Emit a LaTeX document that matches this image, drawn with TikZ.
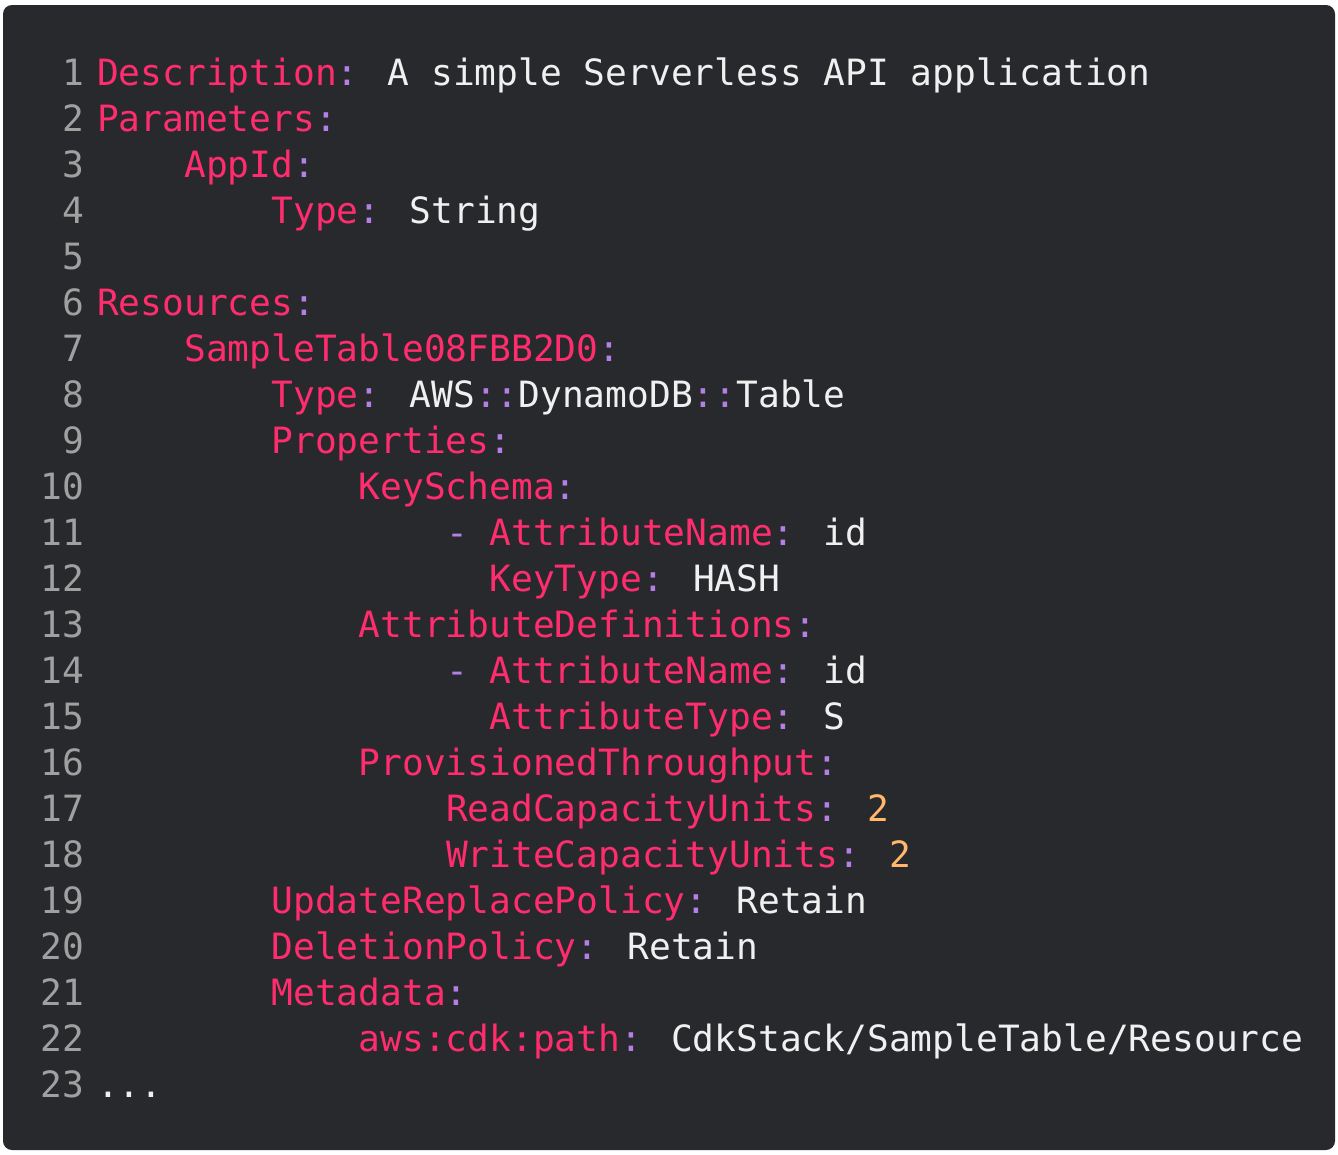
\documentclass[tikz,border=0pt]{standalone}
\usepackage{fontspec}
\newfontfamily\codefont{DejaVu Sans Mono}
\definecolor{bgc}{HTML}{28292C}
\definecolor{keyc}{HTML}{FF2D6E}
\definecolor{punc}{HTML}{B47FE6}
\definecolor{numc}{HTML}{FFB86C}
\definecolor{txtc}{HTML}{F0F0F0}
\definecolor{lnc}{HTML}{A0A0A0}
\newcommand{\Kk}[1]{\textcolor{keyc}{#1}}
\newcommand{\Pp}[1]{\textcolor{punc}{#1}}
\newcommand{\Nn}[1]{\textcolor{numc}{#1}}
\tikzset{ln/.style={anchor=base east,inner sep=0,text=lnc,font=\codefont\fontsize{36.2}{46}\selectfont},
 code/.style={anchor=base west,inner sep=0,text=txtc,font=\codefont\fontsize{36.2}{46}\selectfont}}
\newcommand{\cl}[3]{\node[ln] (n#1) at (84pt,{-(85+46*(#1-1))*1pt}) {#1};
 \node[code] (c#1) at ({(97+21.8*#2)*1pt},{-(85+46*(#1-1))*1pt}) {#3};}
\begin{document}
\begin{tikzpicture}[x=1pt,y=1pt]
\useasboundingbox (0,0) rectangle (1338,-1154);
\fill[white] (0,0) rectangle (1338,-1154);
\fill[bgc,rounded corners=9pt] (3,-5) rectangle (1335,-1150);
\cl{1}{0}{\Kk{Description}\Pp{:} A simple Serverless API application}
\cl{2}{0}{\Kk{Parameters}\Pp{:}}
\cl{3}{4}{\Kk{AppId}\Pp{:}}
\cl{4}{8}{\Kk{Type}\Pp{:} String}
\node[ln] (n5) at (84,-269) {5};
\cl{6}{0}{\Kk{Resources}\Pp{:}}
\cl{7}{4}{\Kk{SampleTable08FBB2D0}\Pp{:}}
\cl{8}{8}{\Kk{Type}\Pp{:} AWS\Pp{::}DynamoDB\Pp{::}Table}
\cl{9}{8}{\Kk{Properties}\Pp{:}}
\cl{10}{12}{\Kk{KeySchema}\Pp{:}}
\cl{11}{16}{\Pp{-} \Kk{AttributeName}\Pp{:} id}
\cl{12}{18}{\Kk{KeyType}\Pp{:} HASH}
\cl{13}{12}{\Kk{AttributeDefinitions}\Pp{:}}
\cl{14}{16}{\Pp{-} \Kk{AttributeName}\Pp{:} id}
\cl{15}{18}{\Kk{AttributeType}\Pp{:} S}
\cl{16}{12}{\Kk{ProvisionedThroughput}\Pp{:}}
\cl{17}{16}{\Kk{ReadCapacityUnits}\Pp{:} \Nn{2}}
\cl{18}{16}{\Kk{WriteCapacityUnits}\Pp{:} \Nn{2}}
\cl{19}{8}{\Kk{UpdateReplacePolicy}\Pp{:} Retain}
\cl{20}{8}{\Kk{DeletionPolicy}\Pp{:} Retain}
\cl{21}{8}{\Kk{Metadata}\Pp{:}}
\cl{22}{12}{\Kk{aws:cdk:path}\Pp{:} CdkStack/SampleTable/Resource}
\cl{23}{0}{...}
\end{tikzpicture}
\end{document}
